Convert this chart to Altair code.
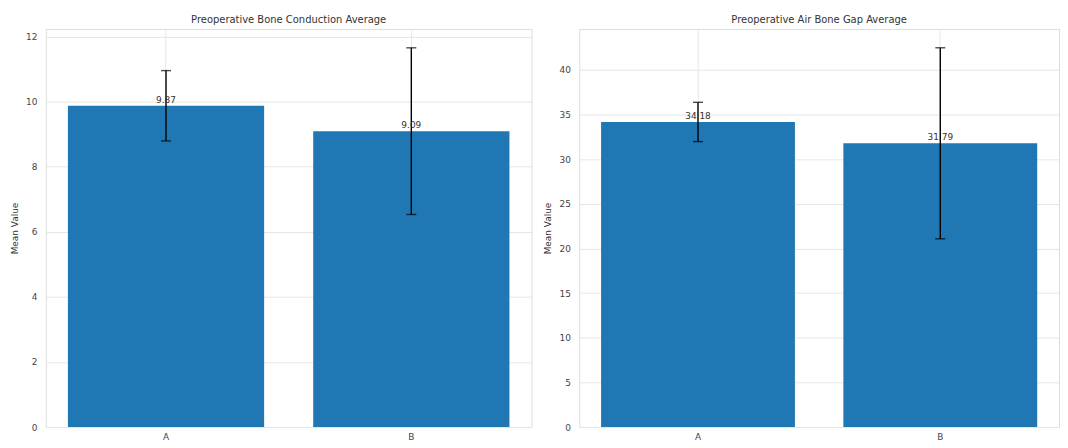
import altair as alt
import pandas as pd

categories = ["A", "B"]
bc_means = [9.87, 9.09]
bc_errs = [1.08, 2.56]
abg_means = [34.18, 31.79]
abg_errs = [2.20, 10.70]
bc_labels = ["9.87", "9.09"]
abg_labels = ["34.18", "31.79"]

FONT = "DejaVu Sans"
BAR = "#1f77b4"


def panel(means, errs, labels, title, ymax, ticks, width):
    df = pd.DataFrame({
        "cat": categories,
        "mean": means,
        "lo": [m - e for m, e in zip(means, errs)],
        "hi": [m + e for m, e in zip(means, errs)],
        "label": labels,
    })
    x = alt.X(
        "cat:N",
        title=None,
        sort=categories,
        scale=alt.Scale(paddingInner=0.2, paddingOuter=0.09),
        axis=alt.Axis(labelAngle=0, grid=True, bandPosition=0.5, ticks=False,
                      domain=False, labelPadding=6, labelFontSize=9,
                      labelColor="#444444", labelFont=FONT,
                      gridColor="#e6e6e6"),
    )
    yscale = alt.Scale(domain=[0, ymax], nice=False, zero=True)
    yaxis = alt.Axis(title="Mean Value", values=ticks, grid=True, ticks=False,
                     domain=False, labelPadding=9, titlePadding=6,
                     labelFontSize=9, titleFontSize=9, titleFontWeight="normal",
                     labelColor="#444444", titleColor="#333333",
                     labelFont=FONT, titleFont=FONT, gridColor="#e6e6e6")
    base = alt.Chart(df)
    bars = base.mark_bar(color=BAR).encode(
        x=x, y=alt.Y("mean:Q", scale=yscale, axis=yaxis)
    )
    err = base.mark_rule(color="black", strokeWidth=1.4).encode(
        x=alt.X("cat:N", sort=categories), y="lo:Q", y2="hi:Q"
    )
    cap_hi = base.mark_tick(color="black", size=10, thickness=1.4,
                            orient="horizontal").encode(
        x=alt.X("cat:N", sort=categories), y="hi:Q"
    )
    cap_lo = base.mark_tick(color="black", size=10, thickness=1.4,
                            orient="horizontal").encode(
        x=alt.X("cat:N", sort=categories), y="lo:Q"
    )
    text = base.mark_text(baseline="bottom", dy=-1, fontSize=9, font=FONT,
                          color="#333333").encode(
        x=alt.X("cat:N", sort=categories), y="mean:Q", text="label:N"
    )
    return alt.layer(bars, err, cap_hi, cap_lo, text).properties(
        width=width, height=400,
        title=alt.TitleParams(title, fontSize=10, fontWeight="normal",
                              color="#333333", font=FONT, offset=4),
    )


left = panel(bc_means, bc_errs, bc_labels, "Preoperative Bone Conduction Average",
             12.23, [0, 2, 4, 6, 8, 10, 12], 488)
right = panel(abg_means, abg_errs, abg_labels, "Preoperative Air Bone Gap Average",
              44.6, [0, 5, 10, 15, 20, 25, 30, 35, 40], 482)

chart = alt.hconcat(left, right, spacing=11).properties(
    padding={"left": 2, "top": 5, "right": 0, "bottom": 0}
).configure_view(stroke="#d5d5d5", strokeWidth=1).configure(background="white")

chart.save("out.html", embed_options={"renderer": "svg", "actions": False})
